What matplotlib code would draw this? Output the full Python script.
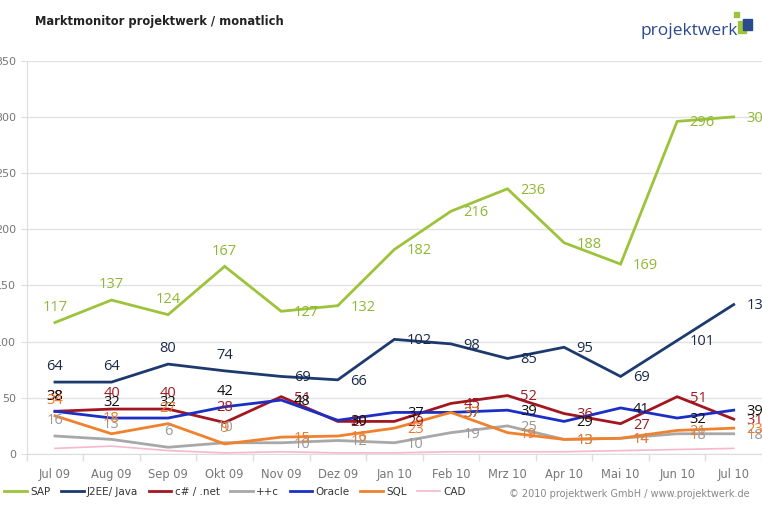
import matplotlib
matplotlib.use("Agg")
import matplotlib.pyplot as plt
from matplotlib.patches import Rectangle
import numpy as np

# Monate
months = ["Jul 09", "Aug 09", "Sep 09", "Okt 09", "Nov 09", "Dez 09", "Jan 10",
          "Feb 10", "Mrz 10", "Apr 10", "Mai 10", "Jun 10", "Jul 10"]

# Werte je Serie
sap = [117, 137, 124, 167, 127, 132, 182, 216, 236, 188, 169, 296, 300]
j2ee = [64, 64, 80, 74, 69, 66, 102, 98, 85, 95, 69, 101, 133]
csharp = [38, 40, 40, 28, 51, 29, 29, 45, 52, 36, 27, 51, 31]
ppc = [16, 13, 6, 10, 10, 12, 10, 19, 25, 13, 14, 18, 18]
oracle = [38, 32, 32, 42, 48, 30, 37, 37, 39, 29, 41, 32, 39]
sql = [34, 18, 27, 9, 15, 16, 23, 37, 19, 13, 14, 21, 23]
cad = [5, 7, 3, 1, 2, 1, 1, 2, 2, 2, 3, 4, 5]

names = ["SAP", "J2EE/ Java", "c# / .net", "++c", "Oracle", "SQL", "CAD"]
series = [sap, j2ee, csharp, ppc, oracle, sql, cad]
colors = ["#9dc33b", "#1d3a6e", "#a3161f", "#a8a8a8", "#1b2fc4", "#f0812e", "#f6b8cb"]
label_colors = ["#8fb832", "#1a2a4a", "#9c1a22", "#999999", "#111111", "#ee7a2a", None]
widths = [2.0, 2.0, 2.0, 2.0, 2.0, 2.0, 1.2]

fig = plt.figure(figsize=(7.62, 5.08), dpi=100)
ax = fig.add_axes([26.7 / 762, 1 - 454 / 508, 1 - 26.7 / 762, (454 - 60.7) / 508])

x = np.arange(len(months))
for vals, name, col, lc, lw in zip(series, names, colors, label_colors, widths):
    ax.plot(x, vals, color=col, lw=lw, label=name, solid_joinstyle="miter")
    if lc is None:
        continue
    # Beschriftungen: erste Punkte oberhalb, danach rechts
    for i, v in enumerate(vals):
        if i < 4:
            off, ha = (0, 11), "center"
        else:
            off, ha = (9, -1), "left"
        ax.annotate(str(v), (x[i], v), xytext=off, textcoords="offset points",
                    ha=ha, va="center", color=lc, fontsize=10.5,
                    family="Open Sans", clip_on=False)

ax.set_xlim(-0.5, len(months) - 0.5)
ax.set_ylim(0, 350)
ax.set_yticks(range(0, 351, 50))
ax.set_xticks(x)
ax.set_xticklabels(months)
ax.set_xticks(np.arange(-0.5, len(months)), minor=True)
ax.tick_params(axis="x", which="major", length=0, pad=10, labelsize=8.3, labelcolor="#777777")
ax.tick_params(axis="x", which="minor", length=5, color="#dddddd", width=1)
ax.tick_params(axis="y", length=4, color="#dddddd", labelsize=8, labelcolor="#777777")
ax.grid(axis="y", color="#e2e2e2", lw=1)
ax.set_axisbelow(True)
for s in ["top", "right"]:
    ax.spines[s].set_visible(False)
for s in ["left", "bottom"]:
    ax.spines[s].set_color("#dddddd")

# Titel
fig.text(35 / 762, 1 - 22 / 508, "Marktmonitor projektwerk / monatlich",
         fontsize=8.3, weight="bold", color="#222222", va="center")

# Logo
fig.text(640 / 762, 1 - 31 / 508, "projektwerk", fontsize=12.5, color="#2a4a8c",
         va="center", ha="left", family="Open Sans")
fig.patches.append(Rectangle((734 / 762, 1 - 17 / 508), 5 / 762, 5 / 508,
                             transform=fig.transFigure, color="#9dc33b"))
fig.patches.append(Rectangle((738 / 762, 1 - 33 / 508), 8 / 762, 12 / 508,
                             transform=fig.transFigure, color="#9dc33b"))
fig.patches.append(Rectangle((743 / 762, 1 - 30 / 508), 9 / 762, 11 / 508,
                             transform=fig.transFigure, color="#2a4a8c"))

# Legende
leg = fig.legend(loc="center left", bbox_to_anchor=(0.0, 1 - 492 / 508), ncol=7,
                 frameon=False, fontsize=7.5, handlelength=2.2, handletextpad=0.3,
                 columnspacing=1.0, borderaxespad=0)
for t in leg.get_texts():
    t.set_color("#333333")

fig.text(750 / 762, 1 - 494 / 508, "© 2010 projektwerk GmbH / www.projektwerk.de",
         fontsize=7, color="#888888", ha="right", va="center")

fig.savefig("out.png", dpi=100)
